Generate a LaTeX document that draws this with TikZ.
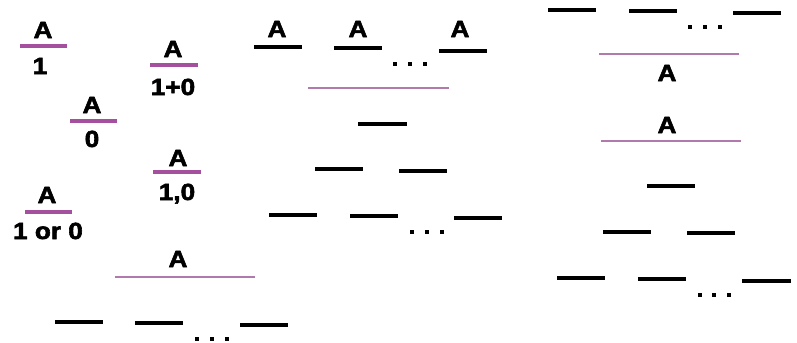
\documentclass[tikz,border=0pt]{standalone}
\usepackage{fontspec}
\newfontfamily\heavyfont{Liberation Sans Bold}[FakeBold=2.5, FakeStretch=1.12]
\usetikzlibrary{calc}
\definecolor{orbpurple}{HTML}{A5509F}
\definecolor{orbthin}{HTML}{B07AAC}
\tikzset{
  orblabel/.style={
    anchor=base, inner sep=0pt,
    font=\heavyfont\fontsize{17.5}{19}\selectfont},
  orbshort/.style={draw=orbpurple, line width=2.3pt},
  orbwide/.style={draw=orbthin, line width=1.1pt},
  orblevel/.style={draw=black, line width=2.7pt},
  orbdot/.style={
    rectangle, fill=black, minimum size=3pt, inner sep=0pt},
}

\begin{document}
\begin{tikzpicture}[x=0.75pt, y=-0.75pt]

\useasboundingbox[fill=white] (0, 0) rectangle (797, 343);

% Single orbitals with their occupations.
\node[orblabel] (a1) at (43, 38) {A};
\draw[orbshort] (20, 46) -- ++(47, 0);
\node[orblabel] (n1) at (40, 74) {1};

\node[orblabel] (a2) at (173, 57) {A};
\draw[orbshort] (150, 65) -- ++(48, 0);
\node[orblabel] (n2) at (173, 95) {1+0};

\node[orblabel] (a3) at (92, 113) {A};
\draw[orbshort] (70, 121) -- ++(47, 0);
\node[orblabel] (n3) at (92, 147) {0};

\node[orblabel] (a4) at (178, 166) {A};
\draw[orbshort] (153, 172) -- ++(48, 0);
\node[orblabel] (n4) at (177, 200) {1,0};

\node[orblabel] (a5) at (47, 203) {A};
\draw[orbshort] (25, 212) -- ++(47, 0);
\node[orblabel] (n5) at (48, 239) {1 or 0};

% A over a ladder of levels.
\node[orblabel] (a6) at (178, 267) {A};
\draw[orbwide] (115, 277) -- (255, 277);
\draw[orblevel] (55, 322) -- ++(48, 0);
\draw[orblevel] (135, 323) -- ++(48, 0);
\draw[orblevel] (240, 325) -- ++(48, 0);
\foreach \x in {197, 212, 227}
  \node[orbdot] (dl-\x) at (\x, 339) {};

% Several A levels over a tree of levels.
\node[orblabel] (m1) at (277, 37) {A};
\node[orblabel] (m2) at (358, 37) {A};
\node[orblabel] (m3) at (460, 37) {A};
\draw[orblevel] (254, 47) -- ++(48, 0);
\draw[orblevel] (334, 48) -- ++(48, 0);
\draw[orblevel] (439, 51) -- ++(48, 0);
\foreach \x in {395, 410, 425}
  \node[orbdot] (dm-\x) at (\x, 64) {};
\draw[orbwide] (308, 88) -- (449, 88);
\draw[orblevel] (358, 124) -- ++(49, 0);
\draw[orblevel] (315, 169) -- ++(48, 0);
\draw[orblevel] (399, 171) -- ++(48, 0);
\draw[orblevel] (269, 215) -- ++(48, 0);
\draw[orblevel] (350, 216) -- ++(48, 0);
\draw[orblevel] (454, 218) -- ++(48, 0);
\foreach \x in {412, 427, 442}
  \node[orbdot] (db-\x) at (\x, 232) {};

% Levels under and over A.
\draw[orblevel] (548, 10) -- ++(48, 0);
\draw[orblevel] (629, 11) -- ++(48, 0);
\draw[orblevel] (733, 13) -- ++(48, 0);
\foreach \x in {690, 705, 720}
  \node[orbdot] (dr-\x) at (\x, 27) {};
\draw[orbwide] (599, 54) -- (739, 54);
\node[orblabel] (r1) at (667, 81) {A};

\node[orblabel] (r2) at (667, 133) {A};
\draw[orbwide] (601, 141) -- (741, 141);
\draw[orblevel] (647, 186) -- ++(48, 0);
\draw[orblevel] (603, 232) -- ++(48, 0);
\draw[orblevel] (687, 233) -- ++(48, 0);
\draw[orblevel] (557, 278) -- ++(48, 0);
\draw[orblevel] (638, 279) -- ++(48, 0);
\draw[orblevel] (742, 281) -- ++(49, 0);
\foreach \x in {700, 714, 729}
  \node[orbdot] (ds-\x) at (\x, 295) {};

\end{tikzpicture}
\end{document}
